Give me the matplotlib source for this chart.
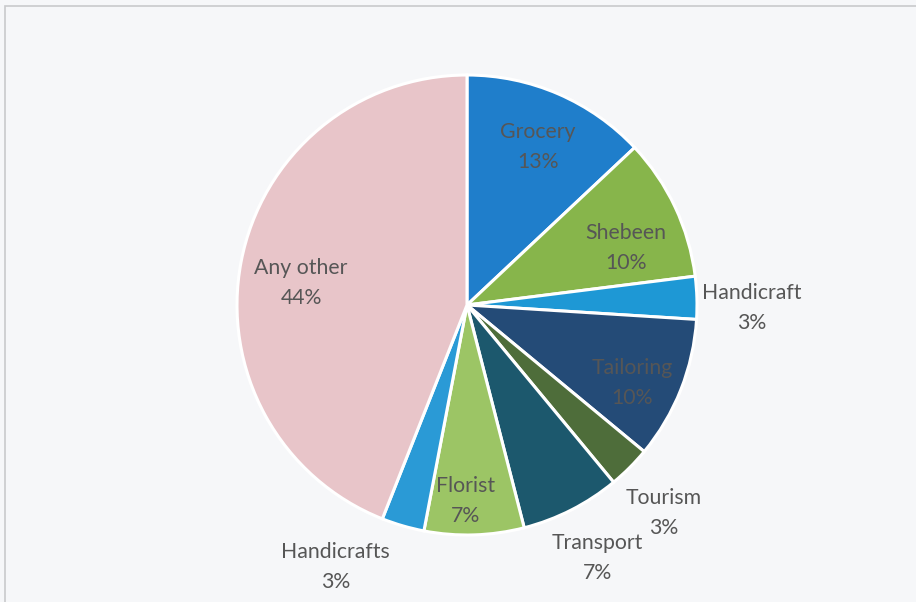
import numpy as np
import matplotlib.pyplot as plt
from matplotlib.patches import Rectangle

# Share of businesses by type
categories = ['Grocery', 'Shebeen', 'Handicraft', 'Tailoring', 'Tourism',
              'Transport', 'Florist', 'Handicrafts', 'Any other']
shares = [13, 10, 3, 10, 3, 7, 7, 3, 44]
colors = ['#1F7ECB', '#87B54B', '#1E98D5', '#244B77', '#4E6D3A',
          '#1C586D', '#9CC565', '#2A9AD6', '#E8C5C9']

# radial position of each label (fraction of radius) and angle nudge in degrees
label_r = [0.753, 0.734, 1.239, 0.794, 1.246, 1.237, 0.852, 1.274, 0.728]
label_nudge = [-0.8, -5.5, -2.4, -3.7, -1.6, 0.2, -2.1, -10.4, 3.3]

plt.rcParams['font.family'] = ['Lato', 'DejaVu Sans']

fig = plt.figure(figsize=(9.16, 6.02), dpi=100)
fig.patch.set_facecolor('#F6F7F9')
fig.patches.append(Rectangle((0.006, -0.05), 1.2, 1.04, transform=fig.transFigure,
                             fill=False, edgecolor='#C9CACC', linewidth=1.2))

ax = fig.add_axes([0.0, 0.0, 1.0, 1.0])
ax.set_facecolor('none')
wedges, _ = ax.pie(shares, colors=colors, startangle=90, counterclock=False,
                   radius=1.0, center=(0, 0),
                   wedgeprops=dict(edgecolor='white', linewidth=2.2))

for w, name, val, r, nudge in zip(wedges, categories, shares, label_r, label_nudge):
    ang = np.deg2rad((w.theta1 + w.theta2) / 2 + nudge)
    x, y = r * np.cos(ang), r * np.sin(ang)
    ax.text(x, y, f'{name}\n{val}%', ha='center', va='center',
            fontsize=15.3, color='#565656', linespacing=1.6)

# place the pie: centre near (467, 305) px, radius ~230 px
W, H = 916, 602
cx, cy, R = 467, 305, 230
ax.set_xlim(-cx / R, (W - cx) / R)
ax.set_ylim(-(H - cy) / R, cy / R)
ax.set_aspect('auto')
ax.axis('off')

fig.savefig('out.png', dpi=100, facecolor=fig.get_facecolor())
